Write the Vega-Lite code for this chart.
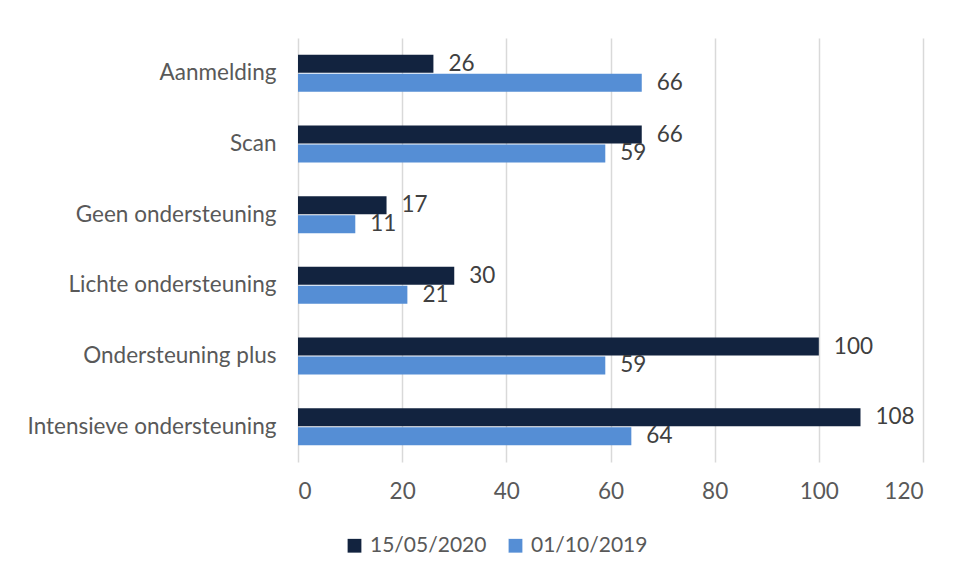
{
  "$schema": "https://vega.github.io/schema/vega-lite/v6.json",
  "width": 625,
  "height": 424,
  "autosize": {"type": "none"},
  "padding": {"left": 298, "top": 38, "right": 34, "bottom": 115},
  "background": "white",
  "config": {
    "font": "Lato",
    "view": {"stroke": null},
    "axis": {"labelFont": "Lato", "labelColor": "#595959"},
    "legend": {"labelFont": "Lato", "labelColor": "#595959"}
  },
  "data": {
    "values": [
      {"cat": "Aanmelding", "series": "15/05/2020", "value": 26},
      {"cat": "Aanmelding", "series": "01/10/2019", "value": 66},
      {"cat": "Scan", "series": "15/05/2020", "value": 66},
      {"cat": "Scan", "series": "01/10/2019", "value": 59},
      {"cat": "Geen ondersteuning", "series": "15/05/2020", "value": 17},
      {"cat": "Geen ondersteuning", "series": "01/10/2019", "value": 11},
      {"cat": "Lichte ondersteuning", "series": "15/05/2020", "value": 30},
      {"cat": "Lichte ondersteuning", "series": "01/10/2019", "value": 21},
      {"cat": "Ondersteuning plus", "series": "15/05/2020", "value": 100},
      {"cat": "Ondersteuning plus", "series": "01/10/2019", "value": 59},
      {"cat": "Intensieve ondersteuning", "series": "15/05/2020", "value": 108},
      {"cat": "Intensieve ondersteuning", "series": "01/10/2019", "value": 64}
    ]
  },
  "encoding": {
    "y": {
      "field": "cat",
      "type": "nominal",
      "sort": ["Aanmelding", "Scan", "Geen ondersteuning", "Lichte ondersteuning", "Ondersteuning plus", "Intensieve ondersteuning"],
      "scale": {"paddingInner": 0.477, "paddingOuter": 0.2385},
      "axis": {"title": null, "domain": false, "ticks": false, "labelFontSize": 22.5, "labelPadding": 22, "labelLimit": 0, "labelColor": "#595959"}
    },
    "yOffset": {
      "field": "series",
      "type": "nominal",
      "sort": ["15/05/2020", "01/10/2019"],
      "scale": {"paddingInner": 0.05}
    },
    "x": {
      "field": "value",
      "type": "quantitative",
      "scale": {"domain": [0, 120], "nice": false},
      "axis": {"title": null, "values": [0, 20, 40, 60, 80, 100, 120], "domain": false, "ticks": false, "grid": true, "gridColor": "#d9d9d9", "gridWidth": 1.5, "labelFontSize": 22.5, "labelPadding": 18, "labelColor": "#595959"}
    }
  },
  "layer": [
    {
      "mark": {"type": "bar", "stroke": null},
      "encoding": {
        "color": {
          "field": "series",
          "type": "nominal",
          "sort": ["15/05/2020", "01/10/2019"],
          "scale": {"domain": ["15/05/2020", "01/10/2019"], "range": ["#12233f", "#558ed5"]},
          "legend": {
            "title": null,
            "orient": "none",
            "direction": "horizontal",
            "legendX": 46,
            "legendY": 497,
            "symbolType": "square",
            "symbolSize": 190,
            "symbolStrokeWidth": 0,
            "labelFontSize": 21,
            "labelColor": "#595959",
            "columnPadding": 18,
            "labelOffset": 5
          }
        }
      }
    },
    {
      "mark": {"type": "text", "align": "left", "baseline": "middle", "dx": 15, "fontSize": 22.5, "color": "#404040", "font": "Lato"},
      "encoding": {"text": {"field": "value", "type": "quantitative"}}
    }
  ]
}
